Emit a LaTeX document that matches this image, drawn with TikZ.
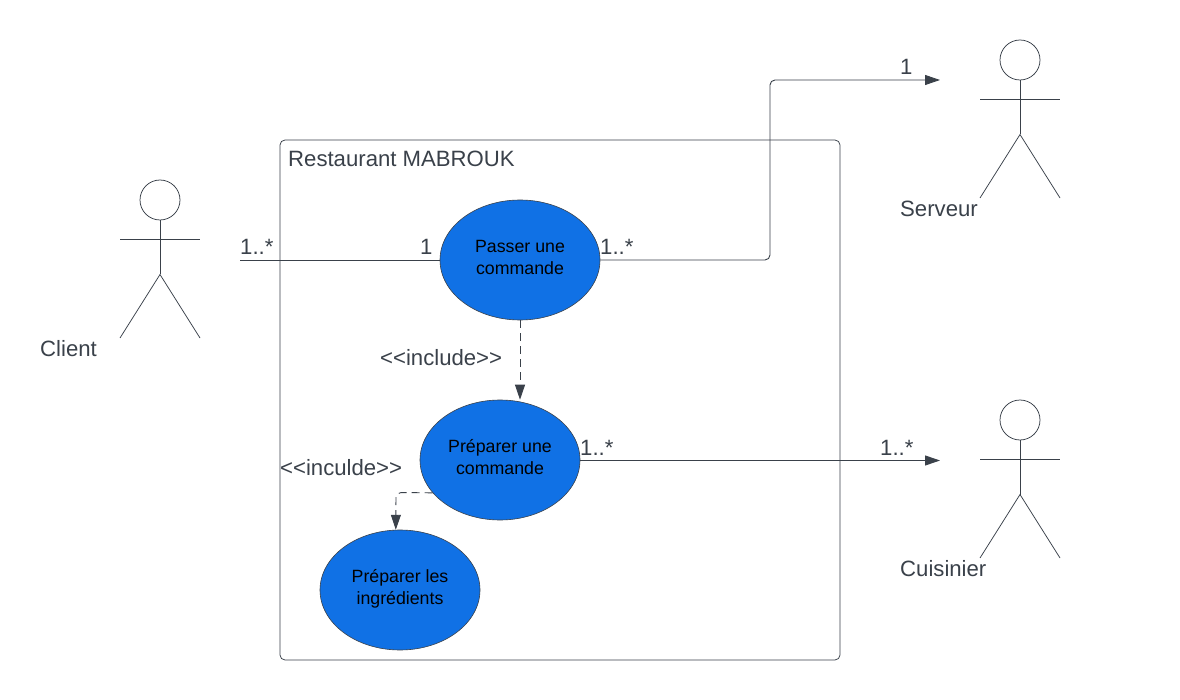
\documentclass[tikz,border=0pt]{standalone}
\usepackage{fontspec}
\setmainfont{Liberation Sans}
\usetikzlibrary{arrows.meta,shapes.geometric}
\definecolor{ink}{HTML}{3A414A}
\definecolor{ublue}{HTML}{1071E5}
\tikzset{
  x=1pt,y=-1pt,
  lbl/.style={text=ink,font=\fontsize{22.15}{26}\selectfont,inner sep=0pt,anchor=base west},
  uc/.style={ellipse,draw=ink,fill=ublue,line width=.6pt,minimum width=160pt,minimum height=120pt,inner sep=0pt,font=\fontsize{17.75}{22}\selectfont,text=black},
  conn/.style={draw=ink,line width=.9pt},
  tip/.style={-{Triangle[length=15pt,width=10pt,fill=ink]}},
  dashline/.style={dash pattern=on 8pt off 5pt},
  stick/.style={draw=ink,line width=.75pt},
}
\newcommand{\uctext}[2]{\raisebox{1pt}[\height][\depth]{\begin{tabular}{@{}c@{}}#1\\#2\end{tabular}}}
\newcommand{\actor}[3]{%
  \node[circle,draw=ink,line width=.75pt,minimum size=40pt,inner sep=0pt] (#3h) at (#1,#2) {};
  \coordinate (#3b) at (#1,#2+74.5);
  \coordinate (#3l) at (#1-40,#2+138);
  \coordinate (#3r) at (#1+40,#2+138);
  \coordinate (#3al) at (#1-40,#2+39.5);
  \coordinate (#3ar) at (#1+40,#2+39.5);
  \draw[stick] (#3h.south) -- (#3b);
  \draw[stick] (#3al) -- (#3ar);
  \draw[stick] (#3l) -- (#3b) -- (#3r);
}
\begin{document}
\begin{tikzpicture}
\useasboundingbox (0,0) rectangle (1180,700);
\fill[white] (0,0) rectangle (1180,700);
\node[draw=ink,line width=.75pt,rounded corners=5pt,minimum width=560pt,minimum height=520pt,inner sep=0pt] (sys) at (560,400) {};
\node[lbl] (title) at (288,167) {Restaurant MABROUK};
\actor{160}{200}{c}
\actor{1020}{60}{s}
\actor{1020}{420}{k}
\node[uc] (u1) at (520,260) {\uctext{Passer une}{commande}};
\node[uc] (u2) at (500,460) {\uctext{Préparer une}{commande}};
\node[uc] (u3) at (400,590) {\uctext{Préparer les}{ingrédients}};
\coordinate (cfree) at (240,260.5);
\coordinate (sfree) at (940,80);
\coordinate (kfree) at (940,460.5);
\draw[conn] (cfree) -- (cfree -| u1.west);
\draw[conn,tip,rounded corners=5pt] (u1.east) -- (770,260) -- (770,80) -- (sfree);
\draw[conn,tip] (kfree -| u2.east) -- (kfree);
\draw[conn,tip,dashline] (u1.south) -- (u2.north -| u1.south);
\draw[conn,tip,dashline,rounded corners=5pt] (u2.206) -- (396,492.5) -- (u3.94);
\node[lbl] (l1) at (240,255) {1..*};
\node[lbl] (l2) at (420,255) {1};
\node[lbl] (l3) at (600,255) {1..*};
\node[lbl] (l4) at (900,75) {1};
\node[lbl] (l5) at (580,455) {1..*};
\node[lbl] (l6) at (880,455) {1..*};
\node[lbl] (l7) at (380,365) {<{}<include>{}>};
\node[lbl] (l8) at (280,475) {<{}<inculde>{}>};
\node[lbl] (n1) at (40,356) {Client};
\node[lbl] (n2) at (900,216.5) {Serveur};
\node[lbl] (n3) at (900,576) {Cuisinier};
\end{tikzpicture}
\end{document}
